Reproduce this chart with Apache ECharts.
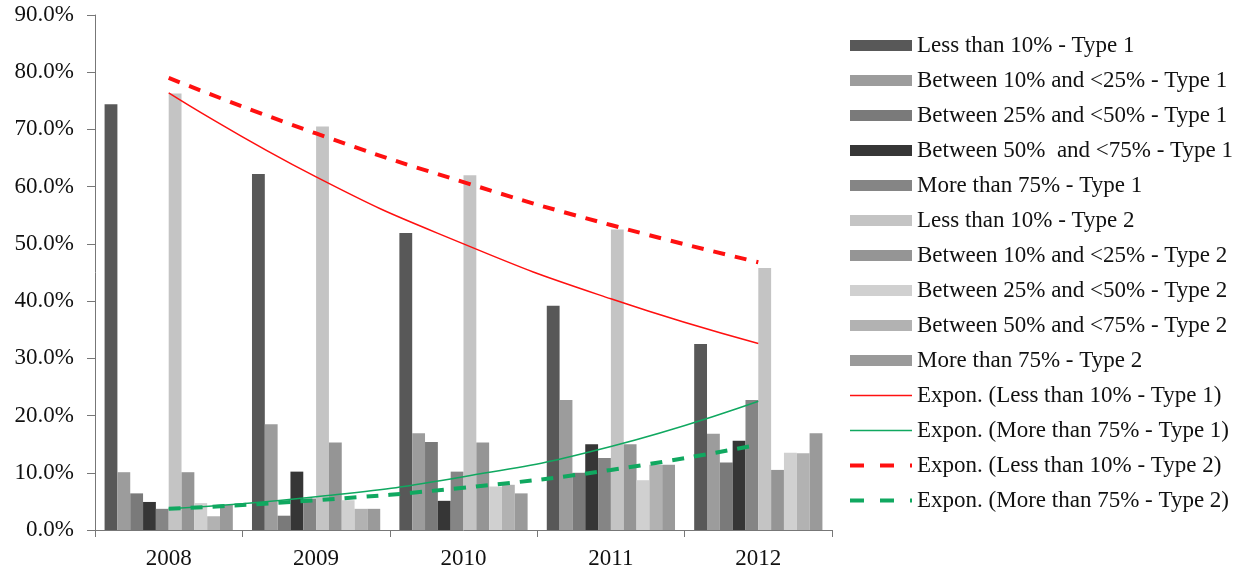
<!DOCTYPE html>
<html>
<head>
<meta charset="utf-8">
<script src="https://cdn.jsdelivr.net/npm/echarts@6/dist/echarts.min.js"></script>
<style>html,body{margin:0;padding:0;background:#fff}#c{width:1260px;height:571px}</style>
</head>
<body>
<div id="c"></div>
<script>
var years = ['2008', '2009', '2010', '2011', '2012'];
var yTicks = [0, 10, 20, 30, 40, 50, 60, 70, 80, 90];

var barNames = [
  'Less than 10% - Type 1',
  'Between 10% and <25% - Type 1',
  'Between 25% and <50% - Type 1',
  'Between 50%  and <75% - Type 1',
  'More than 75% - Type 1',
  'Less than 10% - Type 2',
  'Between 10% and <25% - Type 2',
  'Between 25% and <50% - Type 2',
  'Between 50% and <75% - Type 2',
  'More than 75% - Type 2'
];
var lt10_t1   = [74.4, 62.2, 51.9, 39.2, 32.5];
var b10_25_t1 = [10.1, 18.5, 16.9, 22.7, 16.8];
var b25_50_t1 = [6.4, 2.5, 15.4, 10.0, 11.8];
var b50_75_t1 = [4.9, 10.2, 5.1, 15.0, 15.6];
var gt75_t1   = [3.7, 5.5, 10.2, 12.6, 22.7];
var lt10_t2   = [76.3, 70.5, 62.0, 52.5, 45.8];
var b10_25_t2 = [10.1, 15.3, 15.3, 15.0, 10.5];
var b25_50_t2 = [4.7, 5.2, 7.6, 8.7, 13.5];
var b50_75_t2 = [2.4, 3.7, 7.9, 11.4, 13.4];
var gt75_t2   = [4.4, 3.7, 6.4, 11.4, 16.9];

var trendNames = [
  'Expon. (Less than 10% - Type 1)',
  'Expon. (More than 75% - Type 1)',
  'Expon. (Less than 10% - Type 2)',
  'Expon. (More than 75% - Type 2)'
];
var trend_lt10_t1 = [76.4, 61.7, 50.0, 40.4, 32.6];
var trend_gt75_t1 = [3.7, 5.8, 9.3, 14.6, 22.5];
var trend_lt10_t2 = [79.0, 69.3, 60.8, 53.3, 46.8];
var trend_gt75_t2 = [3.7, 5.2, 7.4, 10.5, 14.9];

var barData = [lt10_t1, b10_25_t1, b25_50_t1, b50_75_t1, gt75_t1, lt10_t2, b10_25_t2, b25_50_t2, b50_75_t2, gt75_t2];
var barColors = ['#585858', '#9c9c9c', '#7a7a7a', '#363636', '#858585', '#c4c4c4', '#959595', '#d0d0d0', '#b2b2b2', '#9a9a9a'];
var trendData = [trend_lt10_t1, trend_gt75_t1, trend_lt10_t2, trend_gt75_t2];
var trendColors = ['#ff1010', '#10a860', '#ff1010', '#10a860'];
var trendWidths = [1.5, 1.5, 4, 4];
var trendTypes = ['solid', 'solid', [12, 10], [12, 10]];
var legendDash = ['solid', 'solid', [14, 16], [14, 16]];

var series = [];
barData.forEach(function (d, i) {
  series.push({
    name: barNames[i], type: 'bar', data: d,
    barGap: '0%', barCategoryGap: '13%',
    itemStyle: { color: barColors[i] },
    z: 2
  });
});
trendData.forEach(function (d, i) {
  series.push({
    name: trendNames[i], type: 'line', data: d, smooth: true,
    showSymbol: false, symbol: 'none',
    lineStyle: { color: trendColors[i], width: trendWidths[i], type: trendTypes[i] },
    itemStyle: { color: trendColors[i] },
    z: 5
  });
});

var legendData = barNames.map(function (n) { return { name: n, icon: 'rect' }; })
  .concat(trendNames.map(function (n, i) {
    return { name: n, itemStyle: { opacity: 0 }, lineStyle: { width: trendWidths[i], type: legendDash[i] } };
  }));

var chart = echarts.init(document.getElementById('c'));
chart.setOption({
  animation: false,
  backgroundColor: '#fff',
  grid: { left: 95, right: 428, top: 15, bottom: 41 },
  legend: {
    orient: 'vertical', left: 848, top: 34, padding: 0,
    itemWidth: 62, itemHeight: 11, itemGap: 12,
    data: legendData,
    textStyle: { fontFamily: 'Liberation Serif', fontSize: 23, color: '#111', lineHeight: 23 }
  },
  xAxis: {
    type: 'category', data: years,
    axisLine: { lineStyle: { color: '#777' } },
    axisTick: { show: true, alignWithLabel: false, length: 7, lineStyle: { color: '#777' } },
    axisLabel: { fontFamily: 'Liberation Serif', fontSize: 23, color: '#111', margin: 17 }
  },
  yAxis: {
    type: 'value', min: 0, max: 90, interval: 10,
    axisLine: { show: true, lineStyle: { color: '#777' } },
    axisTick: { show: true, inside: false, length: 8, lineStyle: { color: '#777' } },
    splitLine: { show: false },
    axisLabel: {
      fontFamily: 'Liberation Serif', fontSize: 23, color: '#111', margin: 21,
      formatter: function (v) { return yTicks.indexOf(v) >= 0 ? v.toFixed(1) + '%' : ''; }
    }
  },
  series: series
});
</script>
</body>
</html>
